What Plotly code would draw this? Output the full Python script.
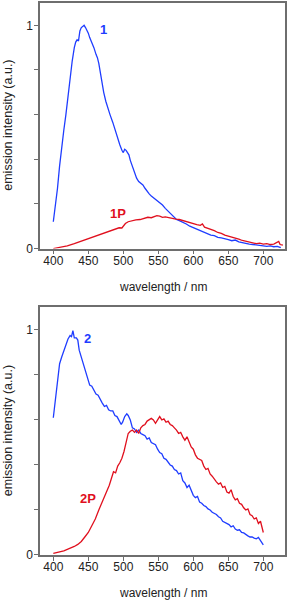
import plotly.graph_objects as go

# Panel 1 (top)
wl_1 = [400,403,406,409,412,415,418,421,424,427,430,432,434,436,438,440,442,444,446,448,450,452,455,458,461,463,465,467,469,472,475,478,481,485,489,492,495,498,500,502,504,506,508,510,513,516,519,522,525,528,531,534,537,540,544,548,552,556,560,564,568,572,576,580,585,590,595,600,605,610,615,620,625,630,635,640,645,650,655,660,665,670,675,680,685,690,695,700,705,710,715,720,725]
int_1 = [0.12,0.19,0.27,0.37,0.46,0.53,0.60,0.69,0.78,0.84,0.90,0.925,0.935,0.93,0.975,0.99,0.995,1.0,0.99,0.98,0.965,0.945,0.925,0.90,0.87,0.855,0.83,0.79,0.755,0.70,0.66,0.625,0.60,0.565,0.52,0.49,0.465,0.44,0.43,0.445,0.44,0.43,0.42,0.395,0.365,0.34,0.315,0.30,0.292,0.285,0.27,0.255,0.245,0.235,0.225,0.215,0.205,0.195,0.18,0.168,0.155,0.14,0.13,0.125,0.118,0.11,0.10,0.093,0.085,0.078,0.072,0.066,0.06,0.058,0.05,0.048,0.045,0.04,0.035,0.038,0.03,0.026,0.022,0.02,0.018,0.015,0.014,0.012,0.01,0.012,0.008,0.01,0.004]

wl_1p = [400,410,420,430,440,450,460,470,480,486,490,494,498,500,503,507,512,518,524,530,535,540,544,548,552,556,560,565,570,575,580,585,590,595,600,605,610,613,616,620,625,630,635,640,645,650,655,660,665,670,675,680,685,690,695,700,705,710,715,720,722,724,728]
int_1p = [0.0,0.005,0.012,0.022,0.033,0.045,0.055,0.066,0.078,0.084,0.09,0.093,0.092,0.10,0.112,0.12,0.124,0.128,0.13,0.135,0.14,0.138,0.143,0.147,0.145,0.14,0.142,0.138,0.137,0.132,0.13,0.125,0.122,0.118,0.112,0.107,0.104,0.11,0.096,0.092,0.085,0.08,0.072,0.068,0.06,0.056,0.05,0.046,0.042,0.036,0.032,0.028,0.026,0.022,0.024,0.02,0.022,0.018,0.02,0.028,0.032,0.018,0.015]

# Panel 2 (bottom)
wl_2 = [400,403,406,409,412,415,418,421,424,426,428,430,433,435,437,440,443,446,449,452,455,458,461,464,467,470,473,476,479,482,485,488,491,494,497,499,502,505,507,510,513,516,519,522,525,528,531,534,537,540,543,546,549,552,555,558,561,564,567,570,573,576,579,582,585,588,591,594,597,600,603,606,609,612,615,618,621,624,627,630,633,636,639,642,645,648,651,654,657,660,663,666,669,672,675,678,681,684,687,690,693,696,700]
int_2 = [0.61,0.70,0.79,0.85,0.88,0.91,0.94,0.96,0.975,0.97,0.997,0.965,0.965,0.955,0.91,0.88,0.85,0.81,0.78,0.755,0.75,0.735,0.715,0.71,0.69,0.675,0.66,0.665,0.645,0.64,0.64,0.62,0.615,0.595,0.58,0.59,0.615,0.627,0.62,0.60,0.565,0.56,0.545,0.555,0.54,0.535,0.53,0.515,0.52,0.50,0.495,0.49,0.47,0.455,0.45,0.43,0.425,0.41,0.40,0.395,0.38,0.375,0.36,0.365,0.33,0.32,0.30,0.31,0.285,0.265,0.255,0.26,0.235,0.23,0.22,0.215,0.205,0.2,0.19,0.185,0.18,0.17,0.165,0.15,0.145,0.14,0.135,0.125,0.13,0.115,0.11,0.112,0.1,0.098,0.09,0.085,0.08,0.08,0.075,0.072,0.078,0.065,0.045]

wl_2p = [400,405,410,415,420,425,430,435,440,445,450,455,460,465,470,475,480,483,486,489,492,495,498,501,504,507,510,513,516,519,522,525,528,531,534,537,540,543,546,549,552,555,558,561,564,567,570,573,576,579,582,585,588,591,594,597,600,603,606,609,612,615,618,621,624,627,630,633,636,639,642,645,648,651,654,657,660,663,666,669,672,675,678,681,684,687,690,693,696,700]
int_2p = [0.007,0.01,0.013,0.018,0.025,0.03,0.038,0.047,0.06,0.08,0.1,0.13,0.16,0.2,0.235,0.27,0.31,0.34,0.37,0.365,0.395,0.41,0.43,0.46,0.5,0.54,0.55,0.555,0.545,0.555,0.54,0.565,0.575,0.58,0.595,0.6,0.607,0.6,0.585,0.6,0.615,0.6,0.605,0.59,0.595,0.58,0.575,0.565,0.555,0.54,0.545,0.525,0.51,0.525,0.5,0.48,0.47,0.445,0.43,0.425,0.42,0.395,0.38,0.385,0.36,0.35,0.335,0.325,0.315,0.32,0.3,0.305,0.28,0.275,0.29,0.26,0.245,0.25,0.23,0.225,0.21,0.2,0.205,0.18,0.175,0.16,0.165,0.14,0.15,0.1]

labels = ["1", "1P", "2", "2P"]
label_x = [472, 492, 449, 449]
label_y = [0.98, 0.158, 0.96, 0.25]

BLUE = "#1f3dff"
RED = "#e0101e"
AXC = "#6e6e6e"
FONT = "Liberation Sans, Arial, sans-serif"

fig = go.Figure()
fig.add_trace(go.Scatter(x=wl_1, y=int_1, mode="lines", line=dict(color=BLUE, width=1.3), xaxis="x", yaxis="y"))
fig.add_trace(go.Scatter(x=wl_1p, y=int_1p, mode="lines", line=dict(color=RED, width=1.3), xaxis="x", yaxis="y"))
fig.add_trace(go.Scatter(x=wl_2, y=int_2, mode="lines", line=dict(color=BLUE, width=1.3), xaxis="x2", yaxis="y2"))
fig.add_trace(go.Scatter(x=wl_2p, y=int_2p, mode="lines", line=dict(color=RED, width=1.3), xaxis="x2", yaxis="y2"))

xcommon = dict(range=[381, 731], tickvals=[400,450,500,550,600,650,700], ticks="outside", ticklen=4,
               tickcolor=AXC, showline=True, linecolor=AXC, linewidth=1.5, mirror=True, showgrid=False,
               zeroline=False, ticklabelstandoff=-4, tickfont=dict(size=12, color="#222", family=FONT))
ycommon = dict(range=[0, 1.1], tickvals=[0,0.2,0.4,0.6,0.8,1.0], ticktext=["0","","","","","1"],
               ticks="outside", ticklen=4, tickcolor=AXC, showline=True, linecolor=AXC, linewidth=1.5,
               mirror=True, showgrid=False, zeroline=False, ticklabelstandoff=-1,
               tickfont=dict(size=12, color="#222", family=FONT))

fig.update_layout(
    width=288, height=600,
    margin=dict(l=40, r=1, t=2, b=45),
    paper_bgcolor="white", plot_bgcolor="white",
    showlegend=False,
    xaxis=dict(xcommon, domain=[0, 1], anchor="y"),
    yaxis=dict(ycommon, domain=[0.5552, 1], anchor="x"),
    xaxis2=dict(xcommon, domain=[0, 1], anchor="y2"),
    yaxis2=dict(ycommon, domain=[0, 0.4485], anchor="x2"),
    font=dict(family=FONT, size=12, color="#222"),
)

for i, (t, lx, ly) in enumerate(zip(labels, label_x, label_y)):
    ax = "x" if i < 2 else "x2"
    ay = "y" if i < 2 else "y2"
    col = BLUE if i % 2 == 0 else RED
    fig.add_annotation(x=lx, y=ly, xref=ax, yref=ay, text="<b>%s</b>" % t, showarrow=False,
                       xanchor="center", yanchor="middle",
                       font=dict(size=13, color=col, family=FONT))

for ay in ["y", "y2"]:
    ax = "x" if ay == "y" else "x2"
    fig.add_annotation(x=0.5, y=0, xref=ax + " domain", yref=ay + " domain", text="wavelength / nm",
                       showarrow=False, xanchor="center", yanchor="middle", yshift=-38,
                       font=dict(size=12, color="#222", family=FONT))
    fig.add_annotation(x=0, y=0.5, xref=ax + " domain", yref=ay + " domain", text="emission intensity (a.u.)",
                       showarrow=False, xanchor="center", yanchor="middle", xshift=-32, textangle=-90,
                       font=dict(size=12.5, color="#222", family=FONT))

fig.write_html("out.html", config={"displayModeBar": False},
               post_script="document.body.style.margin='0';document.body.style.padding='0';")
